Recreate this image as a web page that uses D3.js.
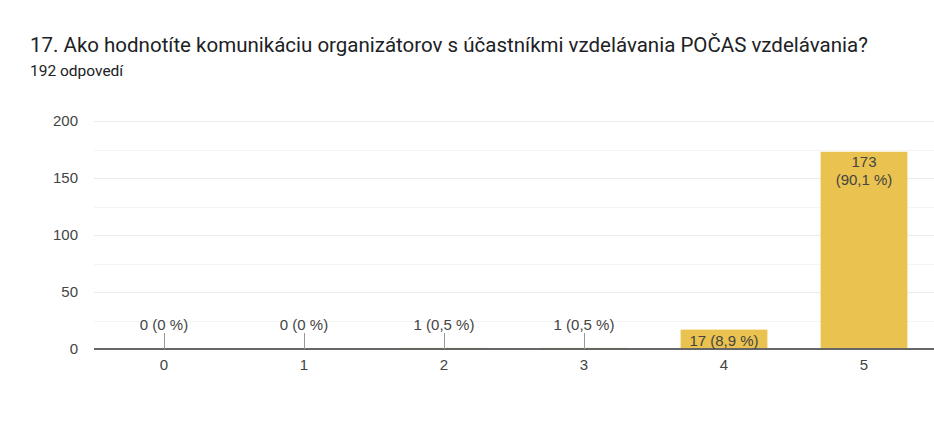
<!DOCTYPE html>
<html><head><meta charset="utf-8">
<script src="https://cdn.jsdelivr.net/npm/d3@7"></script>
<style>body{margin:0;background:#fff;}svg{display:block;}</style>
</head><body>
<svg id="c" width="934" height="444"></svg>
<script>
const categories = ["0","1","2","3","4","5"];
const values = [0, 0, 1, 1, 17, 173];
const labels = ["0 (0 %)", "0 (0 %)", "1 (0,5 %)", "1 (0,5 %)", "17 (8,9 %)", "173\n(90,1 %)"];
const yTicks = [0, 50, 100, 150, 200];
const gridTicks = [25, 50, 75, 100, 125, 150, 175, 200];
const title = "17. Ako hodnotíte komunikáciu organizátorov s účastníkmi vzdelávania POČAS vzdelávania?";
const subtitle = "192 odpovedí";

const svg = d3.select("#c");
const m = {left: 94, right: 934, top: 121, bottom: 349};
const x = d3.scaleBand().domain(categories).range([m.left, m.right]).paddingInner(0.38).paddingOuter(0.19);
const y = d3.scaleLinear().domain([0, 200]).range([m.bottom, m.top]);

svg.append("text").attr("x", 30).attr("y", 52).attr("font-family", "Roboto").attr("font-size", 20.5).attr("fill", "#202124").text(title);
svg.append("text").attr("x", 30).attr("y", 76).attr("font-family", "Roboto").attr("font-size", 15.5).attr("fill", "#202124").text(subtitle);

const font = "Liberation Sans, Arial, sans-serif";
const fs = 15;
svg.append("g").selectAll("line").data(gridTicks).join("line")
  .attr("x1", m.left).attr("x2", m.right)
  .attr("y1", d => Math.round(y(d)) + 0.5).attr("y2", d => Math.round(y(d)) + 0.5)
  .attr("stroke", d => d % 50 === 0 ? "#ebebeb" : "#f4f4f4").attr("stroke-width", 1);

const yAxis = d3.axisLeft(y).tickValues(yTicks).tickSize(0).tickPadding(16);
const ga = svg.append("g").attr("transform", `translate(${m.left},0)`).call(yAxis);
ga.select(".domain").remove();
ga.selectAll("text").attr("font-family", font).attr("font-size", fs).attr("fill", "#444");

svg.append("g").selectAll("rect").data(values).join("rect")
  .attr("x", (d, i) => x(categories[i])).attr("width", x.bandwidth())
  .attr("y", d => y(d)).attr("height", d => y(0) - y(d))
  .attr("fill", "#e9c24f");

svg.append("line").attr("x1", m.left).attr("x2", m.right).attr("y1", y(0)).attr("y2", y(0)).attr("stroke", "#666").attr("stroke-width", 2);

const xAxis = d3.axisBottom(x).tickSize(0).tickPadding(10);
const gx = svg.append("g").attr("transform", `translate(0,${y(0)})`).call(xAxis);
gx.select(".domain").remove();
gx.selectAll("text").attr("font-family", font).attr("font-size", fs).attr("fill", "#444");

const lab = svg.append("g").attr("font-family", font).attr("font-size", fs).attr("fill", "#444").attr("text-anchor", "middle");
values.forEach((v, i) => {
  const cx = x(categories[i]) + x.bandwidth() / 2;
  const lines = labels[i].split("\n");
  const h = y(0) - y(v);
  if (h > 40) {
    lines.forEach((t, j) => lab.append("text").attr("x", cx).attr("y", y(v) + 15 + j * 18).text(t));
  } else if (h > 15) {
    lab.append("text").attr("x", cx).attr("y", y(v) + 16).text(lines[0]);
  } else {
    svg.append("line").attr("x1", cx + 0.5).attr("x2", cx + 0.5).attr("y1", y(0) - 16).attr("y2", y(0)).attr("stroke", "#999").attr("stroke-width", 1);
    lab.append("text").attr("x", cx).attr("y", y(0) - 19).text(lines[0]);
  }
});
</script>
</body></html>
